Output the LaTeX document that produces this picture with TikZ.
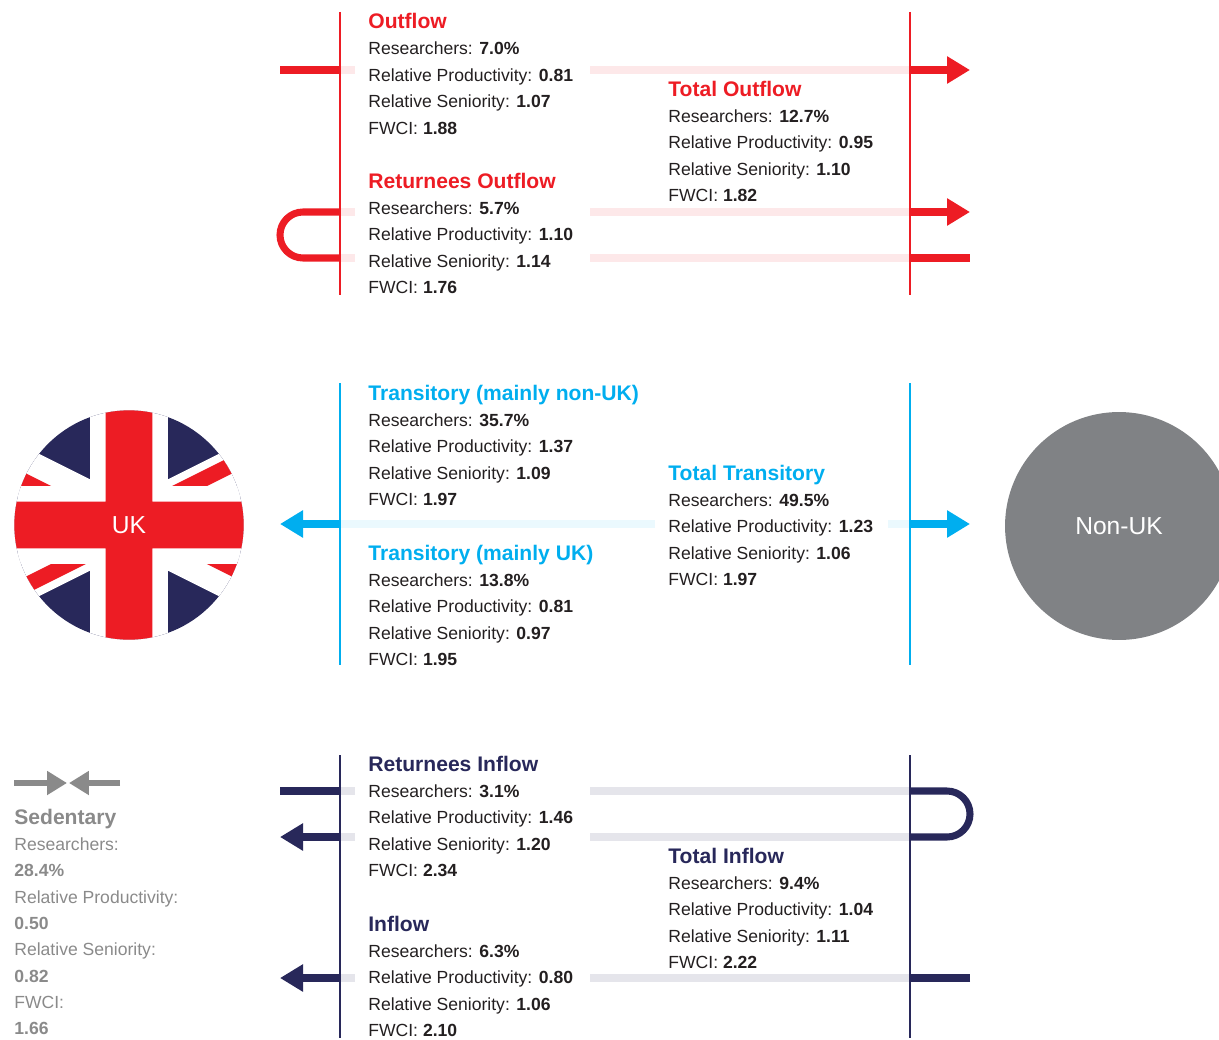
\documentclass[tikz,border=0pt]{standalone}
\usepackage{fontspec}
\setmainfont{Liberation Sans}
\usepackage{tikz}
\usetikzlibrary{arrows.meta}

\definecolor{ukred}{HTML}{ED1C24}
\definecolor{ukblue}{HTML}{28285A}
\definecolor{transcyan}{HTML}{00AEEF}
\definecolor{nongray}{HTML}{808285}
\definecolor{sedgray}{HTML}{8A8A8A}
\definecolor{bodytext}{HTML}{231F20}
\newcommand{\flowtitle}[2]{{\fontsize{12}{15}\selectfont\bfseries\color{#1}#2}}

\begin{document}
\begin{tikzpicture}[x=0.02cm,y=-0.02cm]
\tikzstyle{stat}=[anchor=north west,align=left,inner sep=0pt,text=bodytext,font=\fontsize{10}{15}\selectfont]
\tikzstyle{rail}=[line width=0.8pt]
\tikzstyle{flow}=[line width=4pt]
\tikzstyle{flowarrow}=[flow,-{Triangle[length=0.46cm,width=0.52cm]}]
\tikzstyle{sedarrow}=[line width=3.5pt,-{Triangle[length=0.4cm,width=0.46cm]},sedgray]
\tikzstyle{country}=[text=white,font=\fontsize{14}{16}\selectfont]
\useasboundingbox (0,0) rectangle (1219,1040);
\clip (0,0) rectangle (1219,1040);

% UK flag
\coordinate (ukc) at (129,525);
\begin{scope}[shift={(ukc)},x=0.156cm,y=0.156cm]
\clip (0,0) circle (14.7);
\fill[ukblue] (-30,-15) rectangle (30,15);
\draw[white,line width=0.936cm] (-30,-15) -- (30,15) (-30,15) -- (30,-15);
\begin{scope}\clip (0,0) rectangle (30,15);
\draw[ukred,line width=0.312cm] (-0.447,0.894) -- (29.553,15.894);\end{scope}
\begin{scope}\clip (0,0) rectangle (-30,15);
\draw[ukred,line width=0.312cm] (-0.447,-0.894) -- (-30.447,14.106);\end{scope}
\begin{scope}\clip (0,0) rectangle (-30,-15);
\draw[ukred,line width=0.312cm] (0.447,-0.894) -- (-29.553,-15.894);\end{scope}
\begin{scope}\clip (0,0) rectangle (30,-15);
\draw[ukred,line width=0.312cm] (0.447,0.894) -- (30.447,-14.106);\end{scope}
\fill[white] (-30,-5) rectangle (30,5) (-5,-15) rectangle (5,15);
\fill[ukred] (-30,-3) rectangle (30,3) (-3,-15) rectangle (3,15);
\end{scope}
\node[country] (uk) at (ukc) {UK};
\node[circle,fill=nongray,minimum size=4.56cm,inner sep=0pt,country] (nonuk) at (1119,526) {Non-UK};

% outflow
\coordinate (redtopL) at (340,12); \coordinate (redbotL) at (340,295);
\coordinate (redtopR) at (910,12); \coordinate (redbotR) at (910,295);
\coordinate (gapL) at (355,0); \coordinate (gapR) at (590,0);
\coordinate (out1) at (280,70); \coordinate (out1end) at (970,70);
\coordinate (ret1) at (303,212); \coordinate (ret2) at (303,258);
\coordinate (ret1end) at (970,212); \coordinate (ret2end) at (970,258);
\foreach \r in {out1,ret1,ret2} {
  \draw[flow,ukred!10] (\r -| redtopL) -- (\r -| gapL);
  \draw[flow,ukred!10] (\r -| gapR) -- (\r -| redtopR);
}
\draw[rail,ukred] (redtopL) -- (redbotL);
\draw[rail,ukred] (redtopR) -- (redbotR);
\draw[flow,ukred] (out1) -- (out1 -| redtopL);
\draw[flowarrow,ukred] (out1 -| redtopR) -- (out1end);
\draw[flow,ukred] (ret1 -| redtopL) -- (ret1) arc[start angle=270,end angle=90,radius=23] -- (ret2 -| redtopL);
\draw[flowarrow,ukred] (ret1 -| redtopR) -- (ret1end);
\draw[flow,ukred] (ret2 -| redtopR) -- (ret2end);

% transitory
\coordinate (cyantopL) at (340,383); \coordinate (cyanbotL) at (340,665);
\coordinate (cyantopR) at (910,383); \coordinate (cyanbotR) at (910,665);
\coordinate (trL) at (280,524); \coordinate (trR) at (970,524);
\coordinate (trgapL) at (655,524); \coordinate (trgapR) at (888,524);
\draw[flow,transcyan!8] (trL -| cyantopL) -- (trgapL);
\draw[flow,transcyan!8] (trgapR) -- (trR -| cyantopR);
\draw[rail,transcyan] (cyantopL) -- (cyanbotL);
\draw[rail,transcyan] (cyantopR) -- (cyanbotR);
\draw[flowarrow,transcyan] (trL -| cyantopL) -- (trL);
\draw[flowarrow,transcyan] (trR -| cyantopR) -- (trR);

% inflow
\coordinate (navytopL) at (340,755); \coordinate (navybotL) at (340,1038);
\coordinate (navytopR) at (910,755); \coordinate (navybotR) at (910,1038);
\coordinate (rin1st) at (280,791); \coordinate (rin2end) at (280,837);
\coordinate (rin1) at (947,791); \coordinate (rin2) at (947,837);
\coordinate (in1) at (280,978); \coordinate (in1st) at (970,978);
\foreach \r in {rin1st,rin2end,in1} {
  \draw[flow,ukblue!12] (\r -| navytopL) -- (\r -| gapL);
  \draw[flow,ukblue!12] (\r -| gapR) -- (\r -| navytopR);
}
\draw[rail,ukblue] (navytopL) -- (navybotL);
\draw[rail,ukblue] (navytopR) -- (navybotR);
\draw[flow,ukblue] (rin1st) -- (rin1st -| navytopL);
\draw[flow,ukblue] (rin1 -| navytopR) -- (rin1) arc[start angle=-90,end angle=90,radius=23] -- (rin2 -| navytopR);
\draw[flowarrow,ukblue] (rin2end -| navytopL) -- (rin2end);
\draw[flow,ukblue] (in1st) -- (in1st -| navytopR);
\draw[flowarrow,ukblue] (in1 -| navytopL) -- (in1);

% sedentary
\coordinate (sedL) at (14,783); \coordinate (sedM1) at (67,783);
\coordinate (sedM2) at (69,783); \coordinate (sedR) at (120,783);
\draw[sedarrow] (sedL) -- (sedM1);
\draw[sedarrow] (sedR) -- (sedM2);

\node[stat] (outflow) at (368,13) {\flowtitle{ukred}{Outflow}\\Researchers: \textbf{7.0\%}\\Relative Productivity: \textbf{0.81}\\Relative Seniority: \textbf{1.07}\\FWCI: \textbf{1.88}};
\node[stat] (retout) at (368,172.5) {\flowtitle{ukred}{Returnees Outflow}\\Researchers: \textbf{5.7\%}\\Relative Productivity: \textbf{1.10}\\Relative Seniority: \textbf{1.14}\\FWCI: \textbf{1.76}};
\node[stat] (totout) at (668,80.5) {\flowtitle{ukred}{Total Outflow}\\Researchers: \textbf{12.7\%}\\Relative Productivity: \textbf{0.95}\\Relative Seniority: \textbf{1.10}\\FWCI: \textbf{1.82}};
\node[stat] (trnonuk) at (368,384.5) {\flowtitle{transcyan}{Transitory (mainly non-UK)}\\Researchers: \textbf{35.7\%}\\Relative Productivity: \textbf{1.37}\\Relative Seniority: \textbf{1.09}\\FWCI: \textbf{1.97}};
\node[stat] (truk) at (368,544.5) {\flowtitle{transcyan}{Transitory (mainly UK)}\\Researchers: \textbf{13.8\%}\\Relative Productivity: \textbf{0.81}\\Relative Seniority: \textbf{0.97}\\FWCI: \textbf{1.95}};
\node[stat] (tottr) at (668,464.5) {\flowtitle{transcyan}{Total Transitory}\\Researchers: \textbf{49.5\%}\\Relative Productivity: \textbf{1.23}\\Relative Seniority: \textbf{1.06}\\FWCI: \textbf{1.97}};
\node[stat] (retin) at (368,755.5) {\flowtitle{ukblue}{Returnees Inflow}\\Researchers: \textbf{3.1\%}\\Relative Productivity: \textbf{1.46}\\Relative Seniority: \textbf{1.20}\\FWCI: \textbf{2.34}};
\node[stat] (inflow) at (368,915.5) {\flowtitle{ukblue}{Inflow}\\Researchers: \textbf{6.3\%}\\Relative Productivity: \textbf{0.80}\\Relative Seniority: \textbf{1.06}\\FWCI: \textbf{2.10}};
\node[stat] (totin) at (668,847.5) {\flowtitle{ukblue}{Total Inflow}\\Researchers: \textbf{9.4\%}\\Relative Productivity: \textbf{1.04}\\Relative Seniority: \textbf{1.11}\\FWCI: \textbf{2.22}};
\node[stat,text=sedgray] (sedentary) at (14,808.5) {\flowtitle{sedgray}{Sedentary}\\Researchers:\\\textbf{28.4\%}\\Relative Productivity:\\\textbf{0.50}\\Relative Seniority:\\\textbf{0.82}\\FWCI:\\\textbf{1.66}};
\end{tikzpicture}
\end{document}
